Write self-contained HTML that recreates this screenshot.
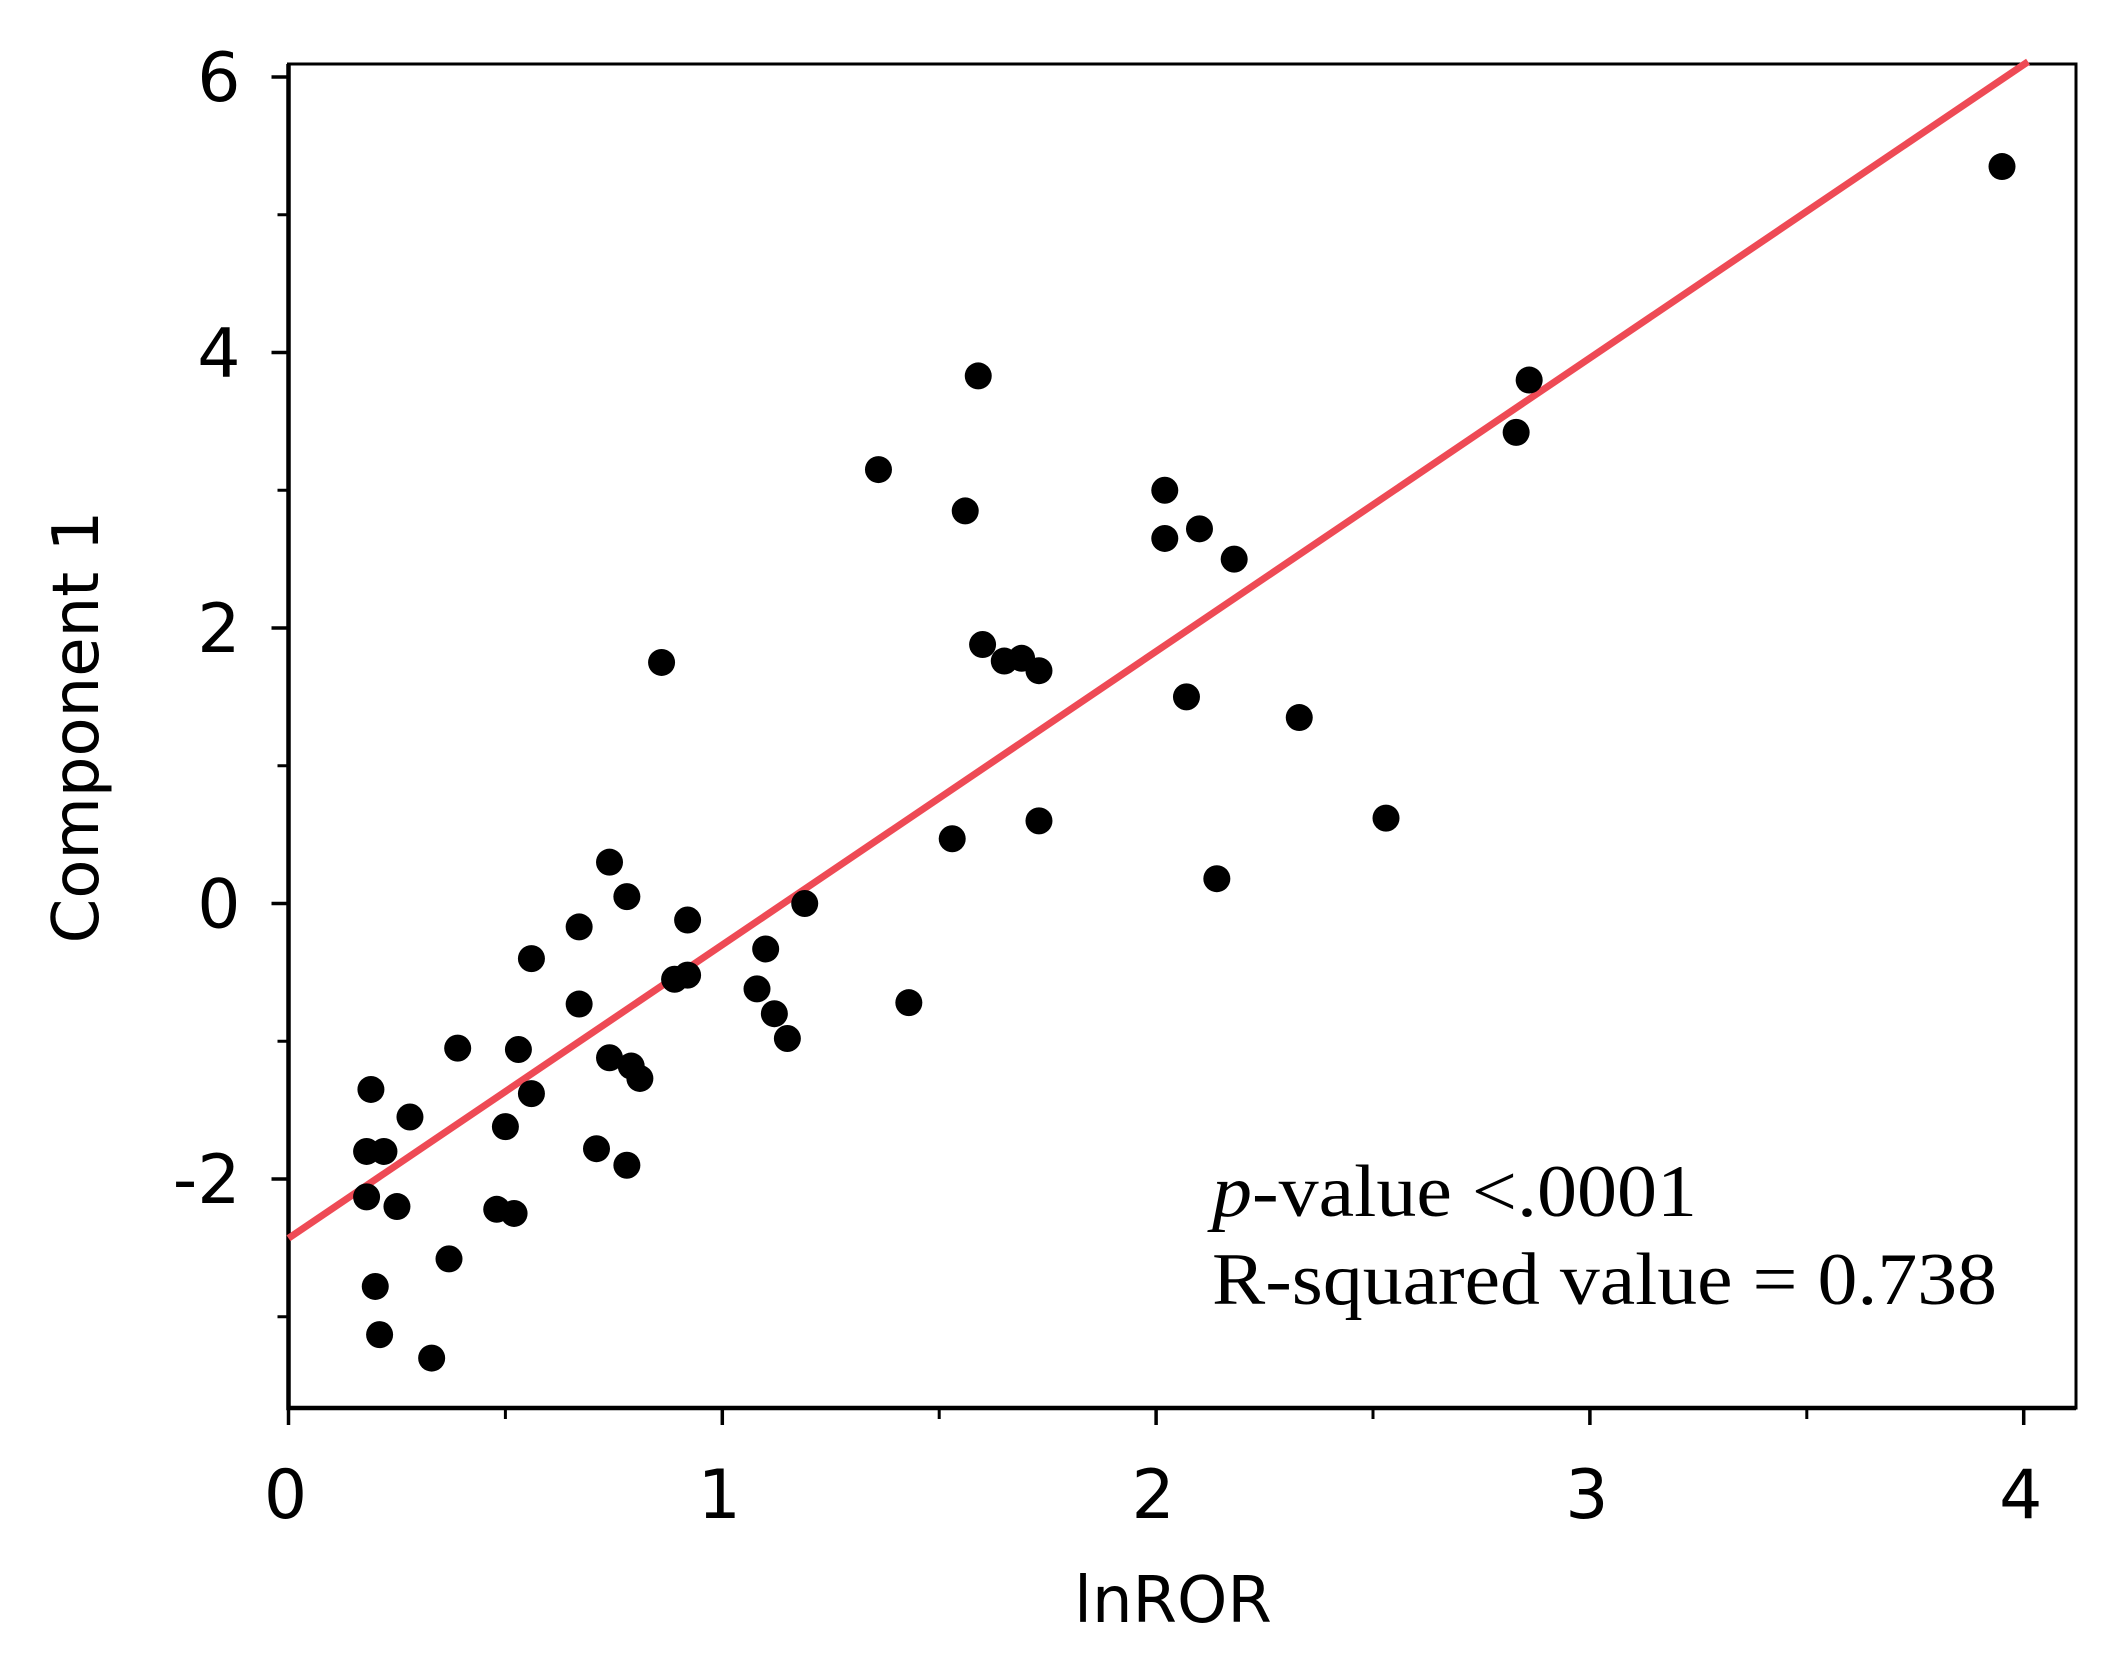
<!DOCTYPE html>
<html><head><meta charset="utf-8"><style>
html,body{margin:0;padding:0;background:#fff;}
svg{display:block;}
</style></head><body>
<svg id="chart" width="2113" height="1655" viewBox="0 0 2113 1655" xmlns="http://www.w3.org/2000/svg">
<g id="g"></g>
</svg>
<script>
const xVals=[0.19,0.18,0.22,0.18,0.25,0.28,0.2,0.21,0.33,0.37,0.39,0.48,0.52,0.5,0.53,0.56,0.56,0.67,0.67,0.71,0.74,0.74,0.78,0.78,0.79,0.81,0.86,0.89,0.92,0.92,1.08,1.1,1.12,1.15,1.19,1.36,1.43,1.53,1.56,1.59,1.6,1.65,1.69,1.73,1.73,2.02,2.02,2.07,2.1,2.14,2.18,2.33,2.53,2.83,2.86,3.95];
const yVals=[-1.35,-1.8,-1.8,-2.13,-2.2,-1.55,-2.78,-3.13,-3.3,-2.58,-1.05,-2.22,-2.25,-1.62,-1.06,-1.38,-0.4,-0.17,-0.73,-1.78,-1.12,0.3,0.05,-1.9,-1.18,-1.27,1.75,-0.55,-0.52,-0.12,-0.62,-0.33,-0.8,-0.98,0.0,3.15,-0.72,0.47,2.85,3.83,1.88,1.76,1.78,1.69,0.6,3.0,2.65,1.5,2.72,0.18,2.5,1.35,0.62,3.42,3.8,5.35];
const xTicks=[0,1,2,3,4];
const xMinor=[0.5,1.5,2.5,3.5];
const yTicks=[-2,0,2,4,6];
const yMinor=[-3,-1,1,3,5];
const fitLine=[-2.43,2.13];
const L=288.5,R=2076,T=64,B=1408;
const sx=v=>L+v*433.8;
const sy=v=>903.5-v*137.75;
const g=document.getElementById('g');
const NS='http://www.w3.org/2000/svg';
function mk(t,a){const e=document.createElementNS(NS,t);for(const k in a)e.setAttribute(k,a[k]);g.appendChild(e);return e;}
let f=mk('rect',{x:L,y:T,width:R-L,height:B-T,fill:'none',stroke:'#000','stroke-width':3});


let ax=mk('path',{d:`M${L},${T} V${B} H${R}`,fill:'none',stroke:'#000','stroke-width':4.5});


xTicks.forEach(v=>{
 let t=mk('line',{x1:sx(v),x2:sx(v),y1:B,y2:B+17,stroke:'#000','stroke-width':3.5});
 
 
 let l=mk('text',{x:sx(v)-3,y:B+110,'text-anchor':'middle','font-size':68,'font-family':'DejaVu Sans, Liberation Sans, sans-serif',fill:'#000'});
 l.textContent=v;
 
 
});
xMinor.forEach(v=>{
 let t=mk('line',{x1:sx(v),x2:sx(v),y1:B,y2:B+11,stroke:'#000','stroke-width':3});
 
 
});
yTicks.forEach(v=>{
 let t=mk('line',{x1:L-17,x2:L,y1:sy(v),y2:sy(v),stroke:'#000','stroke-width':3.5});
 
 
 let l=mk('text',{x:L-48,y:sy(v)+24,'text-anchor':'end','font-size':68,'font-family':'DejaVu Sans, Liberation Sans, sans-serif',fill:'#000'});
 l.textContent=v;
 
 
});
yMinor.forEach(v=>{
 let t=mk('line',{x1:L-11,x2:L,y1:sy(v),y2:sy(v),stroke:'#000','stroke-width':3});
 
 
});
const x1=0,x2=4.01;
let fl=mk('line',{x1:sx(x1),y1:sy(fitLine[0]+fitLine[1]*x1),x2:sx(x2),y2:sy(fitLine[0]+fitLine[1]*x2),stroke:'#ee4a55','stroke-width':7});


xVals.forEach((v,i)=>{
 let c=mk('circle',{cx:sx(v),cy:sy(yVals[i]),r:13.5,fill:'#000'});
 
 
});
let xt=mk('text',{x:1173,y:1622,'text-anchor':'middle','font-size':64,'font-family':'DejaVu Sans, Liberation Sans, sans-serif',fill:'#000'});
xt.textContent='lnROR';


let yt=mk('text',{x:0,y:0,'text-anchor':'middle','font-size':64,'font-family':'DejaVu Sans, Liberation Sans, sans-serif',fill:'#000',transform:'translate(98,727) rotate(-90)'});
yt.textContent='Component 1';


let a1=mk('text',{x:1212,y:1216,'font-size':74,'font-family':'Liberation Serif, serif',fill:'#000',textLength:485,lengthAdjust:'spacingAndGlyphs'});
a1.innerHTML='<tspan font-style="italic">p</tspan>-value &lt;.0001';


let a2=mk('text',{x:1212,y:1304,'font-size':74,'font-family':'Liberation Serif, serif',fill:'#000',textLength:785,lengthAdjust:'spacingAndGlyphs'});
a2.textContent='R-squared value = 0.738';


</script>
</body></html>
